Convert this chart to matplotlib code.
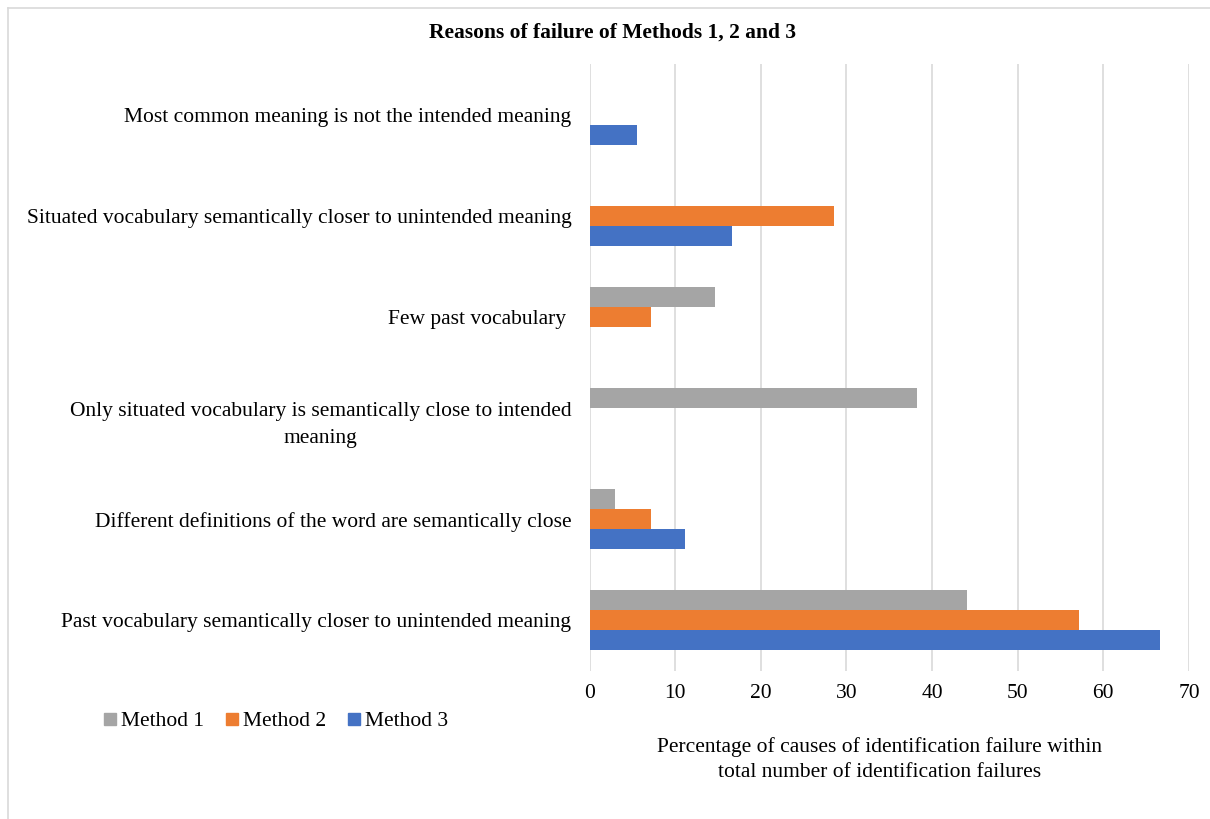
import numpy as np
import matplotlib.pyplot as plt
from matplotlib.lines import Line2D

plt.rcParams['font.family'] = ['Liberation Serif', 'DejaVu Serif']

# reasons, bottom to top
reasons = [
    'Past vocabulary semantically closer to unintended meaning',
    'Different definitions of the word are semantically close',
    'Only situated vocabulary is semantically close to intended\nmeaning',
    'Few past vocabulary ',
    'Situated vocabulary semantically closer to unintended meaning',
    'Most common meaning is not the intended meaning',
]
method1 = [44.12, 2.94, 38.24, 14.71, 0, 0]
method2 = [57.14, 7.14, 0, 7.14, 28.57, 0]
method3 = [66.67, 11.11, 0, 0, 16.67, 5.56]
series_names = ['Method 1', 'Method 2', 'Method 3']
colors = ['#A5A5A5', '#ED7D31', '#4472C4']
xticks = [0, 10, 20, 30, 40, 50, 60, 70]

fs = 15.5

fig = plt.figure(figsize=(12.1, 8.19), dpi=100)
ax = fig.add_axes([0.4872, 0.1807, 0.4954, 0.7412])

y = np.arange(len(reasons))
h = 0.198
for vals, off, col in zip([method1, method2, method3], [h, 0, -h], colors):
    ax.barh(y + off, vals, height=h, color=col, zorder=3)

ax.set_xlim(0, 70)
ax.set_ylim(-0.5, len(reasons) - 0.5)
ax.set_xticks(xticks)
ax.set_xticklabels([str(t) for t in xticks], fontsize=fs)
ax.set_yticks(y)
ax.set_yticklabels(reasons, fontsize=fs, multialignment='center')
for lbl in ax.get_yticklabels():
    lbl.set_linespacing(1.6)
ax.tick_params(axis='both', length=0)
ax.tick_params(axis='y', pad=13)
ax.tick_params(axis='x', pad=9)
for s in ax.spines.values():
    s.set_visible(False)
ax.grid(axis='x', color='#D9D9D9', linewidth=1.2, zorder=0)

fig.text(0.506, 0.9597, 'Reasons of failure of Methods 1, 2 and 3',
         ha='center', va='center', fontsize=fs, fontweight='bold')
fig.text(0.7265, 0.0725,
         'Percentage of causes of identification failure within\n'
         'total number of identification failures',
         ha='center', va='center', fontsize=fs, linespacing=1.4)

handles = [Line2D([], [], marker='s', linestyle='none', markersize=8,
                  markerfacecolor=c, markeredgecolor=c) for c in colors]
fig.legend(handles, series_names, loc='center left',
           bbox_to_anchor=(102 / 1210, 1 - 721 / 819), ncol=3, frameon=False,
           fontsize=fs, handlelength=0.7, handletextpad=0.17,
           columnspacing=0.95, borderaxespad=0, borderpad=0)

# chart area border (left and top edges)
fig.add_artist(Line2D([8 / 1210, 8 / 1210], [0, 1 - 8 / 819],
                      transform=fig.transFigure, color='#D9D9D9', linewidth=1.2))
fig.add_artist(Line2D([8 / 1210, 1], [1 - 8 / 819, 1 - 8 / 819],
                      transform=fig.transFigure, color='#D9D9D9', linewidth=1.2))

fig.savefig('out.png', dpi=100)
